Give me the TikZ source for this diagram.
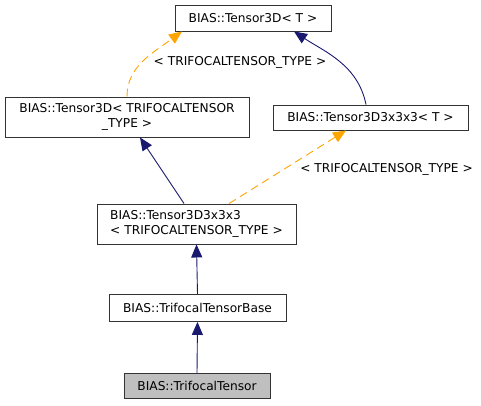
\documentclass[tikz,border=0pt]{standalone}
\usepackage{fontspec}
\setmainfont{DejaVu Sans}
\usetikzlibrary{arrows.meta}

\definecolor{navy}{HTML}{191970}
\definecolor{tmplorange}{HTML}{FFA500}

\tikzset{
  cls/.style={draw=black!80, fill=white, rectangle, inner sep=0pt, line width=0.9pt,
    font=\fontsize{12.2}{15}\selectfont},
  inherit/.style={navy, line width=0.9pt, -{Triangle[length=13pt,width=11pt]}},
  tmpl/.style={tmplorange, line width=0.9pt, dash pattern=on 8pt off 5pt,
    -{Triangle[length=13pt,width=11pt]}},
  tlabel/.style={font=\fontsize{12.2}{15}\selectfont}
}

\begin{document}
\begin{tikzpicture}[x=1pt,y=-1pt]
    \useasboundingbox (0,0) rectangle (481,405);

    % classes
    \node[cls, minimum width=156pt, minimum height=26pt] (t3d) at (253,18) {BIAS::Tensor3D< T >};
    \node[cls, minimum width=244pt, minimum height=40pt, align=center] (t3dtri) at (127,117)
        {BIAS::Tensor3D< TRIFOCALTENSOR\\\_TYPE >};
    \node[cls, minimum width=195pt, minimum height=25pt] (t333) at (370.5,117.5) {BIAS::Tensor3D3x3x3< T >};
    \node[cls, minimum width=199pt, minimum height=40pt, align=left] (t333tri) at (196.5,224)
        {BIAS::Tensor3D3x3x3\\< TRIFOCALTENSOR\_TYPE >};
    \node[cls, minimum width=177pt, minimum height=27pt] (base) at (197.5,308) {BIAS::TrifocalTensorBase};
    \node[cls, fill=black!25, minimum width=146pt, minimum height=25pt] (trif) at (197,386) {BIAS::TrifocalTensor};

    % inheritance
    \draw[tmpl] (t3dtri.north) .. controls +(0,-30) and +(-30,22) .. ([xshift=-71pt]t3d.south);
    \draw[inherit] ([xshift=-4.5pt]t333.north) .. controls +(-8,-40) and +(30,20) .. ([xshift=41pt]t3d.south);
    \draw[inherit] ([xshift=-12.5pt]t333tri.north) -- ([xshift=13pt]t3dtri.south);
    \draw[tmpl] ([xshift=32.5pt]t333tri.north) -- ([xshift=-24.5pt]t333.south);
    \draw[inherit] (base.north) -- (t333tri.south);
    \draw[inherit] (trif.north) -- (base.south);

    \node[tlabel] (lbla) at (240,62) {< TRIFOCALTENSOR\_TYPE >};
    \node[tlabel] (lblb) at (386.5,169) {< TRIFOCALTENSOR\_TYPE >};
\end{tikzpicture}
\end{document}
